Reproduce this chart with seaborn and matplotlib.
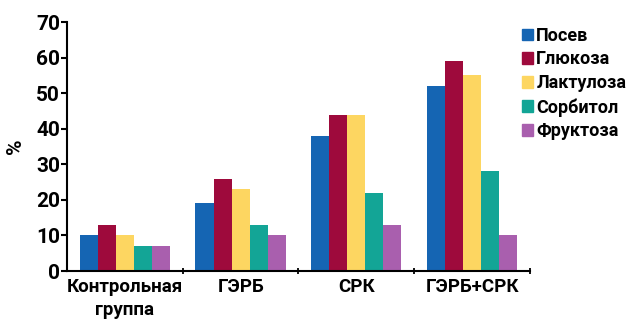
# Bar chart: breath test positivity by group

import pandas as pd
import seaborn as sns
import matplotlib.pyplot as plt
from matplotlib.patches import Patch

# Data
groups = ["Контрольная\nгруппа", "ГЭРБ", "СРК", "ГЭРБ+СРК"]
series = ["Посев", "Глюкоза", "Лактулоза", "Сорбитол", "Фруктоза"]
posev = [10, 19, 38, 52]
glucose = [13, 26, 44, 59]
lactulose = [10, 23, 44, 55]
sorbitol = [7, 13, 22, 28]
fructose = [7, 10, 13, 10]
colors = ["#1565b3", "#9e0a3c", "#fdd661", "#13a596", "#a95fae"]

rows = []
for name, vals in zip(series, [posev, glucose, lactulose, sorbitol, fructose]):
    for g, v in zip(groups, vals):
        rows.append({"group": g, "series": name, "value": v})
df = pd.DataFrame(rows)

sns.set_style("white")
plt.rcParams["font.family"] = ["Roboto", "DejaVu Sans"]
plt.rcParams["font.weight"] = "bold"
plt.rcParams["text.color"] = "black"
plt.rcParams["xtick.color"] = "black"
plt.rcParams["ytick.color"] = "black"

fig = plt.figure(figsize=(6.29, 3.25), dpi=100)
ax = fig.add_axes([0.1065, 0.166, 0.736, 0.766])

sns.barplot(data=df, x="group", y="value", hue="series", palette=colors,
            width=0.78, gap=0, saturation=1, linewidth=0, ax=ax, legend=False)

ax.set_xlim(-0.5, 3.5)
ax.set_ylim(0, 70)
ax.set_yticks(range(0, 71, 10))
ax.tick_params(axis="y", labelsize=15, length=4, width=1.5, direction="out", left=True, pad=1)
ax.tick_params(axis="x", labelsize=13.5, length=0, pad=5)
ax.set_xticks([0.5, 1.5, 2.5, 3.5], minor=True)
ax.tick_params(axis="x", which="minor", length=5, width=1.3, direction="inout", bottom=True)
for lbl in ax.get_xticklabels() + ax.get_yticklabels():
    lbl.set_fontweight("bold")
    lbl.set_color("black")
for lbl in ax.get_xticklabels():
    lbl.set_linespacing(1.35)

ax.set_xlabel("")
ax.set_ylabel("%", fontsize=15, fontweight="bold", labelpad=8, color="black")

sns.despine(ax=ax)
for s in ["left", "bottom"]:
    ax.spines[s].set_color("black")
    ax.spines[s].set_linewidth(1.5)

handles = [Patch(color=c, label=s) for c, s in zip(colors, series)]
leg = fig.legend(handles=handles, loc="upper left", bbox_to_anchor=(0.818, 0.94),
                 frameon=False, fontsize=13, handlelength=0.6, handleheight=0.6,
                 handletextpad=0.2, labelspacing=0.32, borderaxespad=0)
for t in leg.get_texts():
    t.set_color("black")

fig.savefig("out.png", dpi=100)
